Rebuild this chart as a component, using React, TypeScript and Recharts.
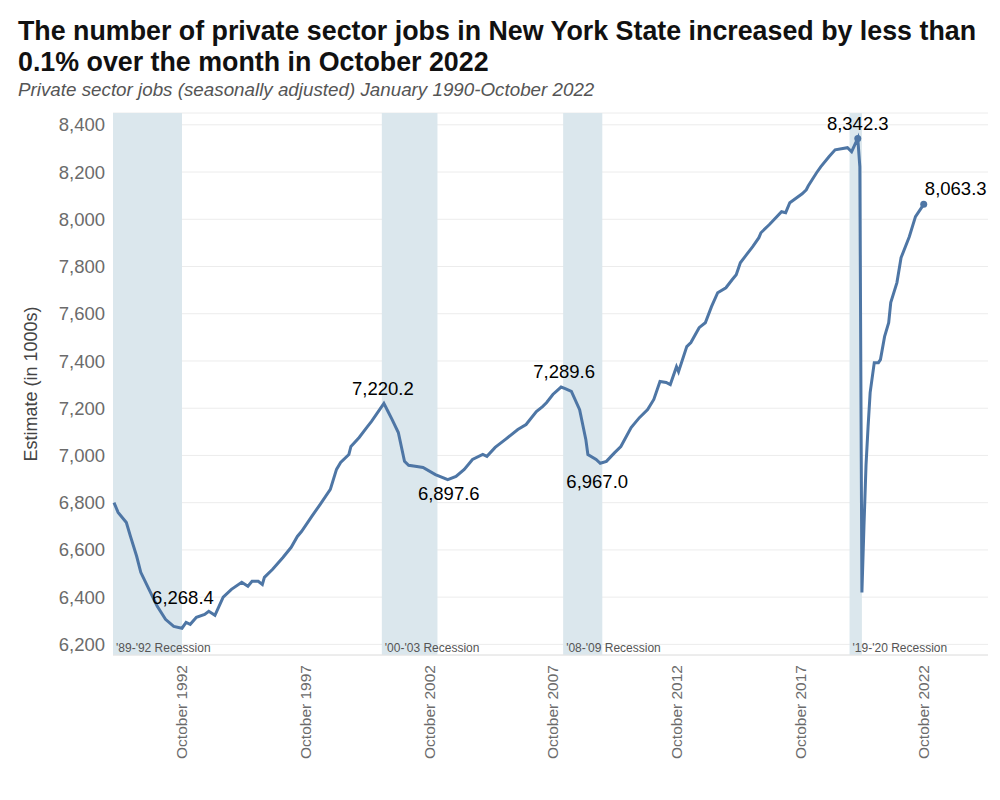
import {
  LineChart,
  Line,
  XAxis,
  YAxis,
  CartesianGrid,
  ReferenceArea,
} from "recharts";

// monthly readings (thousands)
const months = [
  "1990-01", "1990-03", "1990-07", "1990-09", "1990-12", "1991-02", "1991-06", "1991-10",
  "1992-02", "1992-06", "1992-10", "1992-12", "1993-02", "1993-05", "1993-09", "1993-11",
  "1994-02", "1994-06", "1994-10", "1995-03", "1995-06", "1995-08", "1995-11", "1996-01",
  "1996-02", "1996-06", "1996-11", "1997-03", "1997-06", "1997-08", "1998-01", "1998-05",
  "1998-10", "1999-01", "1999-03", "1999-07", "1999-08", "1999-12", "2000-04", "2000-06",
  "2000-09", "2000-12", "2001-02", "2001-04", "2001-07", "2001-10", "2001-12", "2002-04",
  "2002-07", "2003-01", "2003-07", "2003-11", "2004-03", "2004-07", "2004-12", "2005-02",
  "2005-06", "2005-11", "2006-05", "2006-09", "2007-02", "2007-05", "2007-07", "2007-10",
  "2008-02", "2008-04", "2008-07", "2008-11", "2009-02", "2009-03", "2009-07", "2009-09",
  "2009-12", "2010-04", "2010-07", "2010-12", "2011-04", "2011-08", "2011-11", "2012-02",
  "2012-05", "2012-07", "2012-10", "2012-11", "2013-03", "2013-05", "2013-09", "2013-12",
  "2014-03", "2014-06", "2014-10", "2015-01", "2015-03", "2015-05", "2015-08", "2015-11",
  "2016-02", "2016-03", "2016-07", "2017-01", "2017-03", "2017-05", "2017-11", "2018-01",
  "2018-02", "2018-06", "2018-08", "2018-12", "2019-03", "2019-09", "2019-11", "2020-02",
  "2020-03", "2020-04", "2020-05", "2020-06", "2020-07", "2020-08", "2020-10", "2020-12",
  "2021-01", "2021-03", "2021-05", "2021-06", "2021-09", "2021-11", "2022-03", "2022-06",
  "2022-10",
];

const jobs = [
  6800, 6759, 6716, 6657, 6573, 6505, 6433, 6361,
  6306, 6276, 6268.4, 6293, 6285, 6315, 6327, 6340,
  6323, 6400, 6433, 6463, 6446, 6467, 6467, 6454,
  6484, 6518, 6568, 6611, 6657, 6678, 6742, 6792,
  6856, 6941, 6970, 7004, 7038, 7076, 7122, 7144,
  7182, 7220.2, 7186, 7152, 7097, 6975, 6958, 6953,
  6949, 6919, 6897.6, 6911, 6941, 6983, 7004, 6996,
  7034, 7068, 7110, 7131, 7186, 7207, 7224, 7258,
  7289.6, 7283, 7271, 7194, 7068, 7004, 6983, 6967.0,
  6975, 7012, 7038, 7118, 7160, 7194, 7237, 7313,
  7309, 7300, 7376, 7355, 7461, 7478, 7541, 7562,
  7630, 7689, 7710, 7744, 7765, 7816, 7850, 7884,
  7922, 7943, 7977, 8032, 8028, 8070, 8108, 8125,
  8142, 8197, 8222, 8265, 8294, 8303, 8286, 8342.3,
  8222, 6420, 6700, 6960, 7122, 7266, 7393, 7393,
  7406, 7503, 7562, 7647, 7732, 7837, 7926, 8011,
  8063.3,
];

const yTicks = [6200, 6400, 6600, 6800, 7000, 7200, 7400, 7600, 7800, 8000, 8200, 8400];
const xTickMonths = ["1992-10", "1997-10", "2002-10", "2007-10", "2012-10", "2017-10", "2022-10"];
const xTickLabels = ["October 1992", "October 1997", "October 2002", "October 2007", "October 2012", "October 2017", "October 2022"];

const recessionLabels = ["'89-'92 Recession", "'00-'03 Recession", "'08-'09 Recession", "'19-'20 Recession"];
const recessionStart = ["1989-12", "2000-11", "2008-03", "2019-10"];
const recessionEnd = ["1992-10", "2003-02", "2009-10", "2020-04"];

const annotatedMonths = ["1992-10", "2000-12", "2003-07", "2008-02", "2009-09", "2020-02", "2022-10"];

// where each annotation sits relative to its point
const annotationOffset: Record<string, { dx: number; dy: number; dot?: boolean }> = {
  "1992-10": { dx: 1, dy: -31 },
  "2000-12": { dx: -1, dy: -15 },
  "2003-07": { dx: 1, dy: 14 },
  "2008-02": { dx: 3, dy: -16 },
  "2009-09": { dx: -3, dy: 18 },
  "2020-02": { dx: 0, dy: -15, dot: true },
  "2022-10": { dx: 32, dy: -16, dot: true },
};

const X_MIN = 1989.96;
const X_MAX = 2025.35;
const LINE_COLOR = "#4e76a5";
const FONT = "'Liberation Sans', Arial, Helvetica, sans-serif";

const toT = (m: string) => {
  const [y, mo] = m.split("-").map(Number);
  return y + (mo - 1) / 12;
};

const fmt = (v: number) => v.toLocaleString("en-US", { minimumFractionDigits: 1, maximumFractionDigits: 1 });

const data = months.map((m, i) => ({ t: toT(m), month: m, jobs: jobs[i] }));
const xTicks = xTickMonths.map(toT);

function XTick(props: any) {
  const { x, y, payload } = props;
  const idx = xTicks.findIndex((t) => Math.abs(t - payload.value) < 0.001);
  const yy = y + 2;
  return (
    <text
      x={x}
      y={yy}
      dy="0.35em"
      textAnchor="end"
      transform={`rotate(-90, ${x}, ${yy})`}
      fontSize={15.5}
      fill="#6b6b6b"
      fontFamily={FONT}
    >
      {idx >= 0 ? xTickLabels[idx] : ""}
    </text>
  );
}

function AnnotDot(props: any) {
  const { cx, cy, payload } = props;
  const key = `dot-${payload.month}`;
  if (!annotatedMonths.includes(payload.month)) return <g key={key} />;
  const off = annotationOffset[payload.month];
  return (
    <g key={key}>
      {off.dot && <circle cx={cx} cy={cy} r={3.5} fill={LINE_COLOR} />}
      <text
        x={cx + off.dx}
        y={cy + off.dy}
        textAnchor="middle"
        dominantBaseline="central"
        fontSize={18.5}
        fill="#000"
        fontFamily={FONT}
      >
        {fmt(payload.jobs)}
      </text>
    </g>
  );
}

export default function App() {
  return (
    <div style={{ position: "absolute", left: 0, top: 0, width: 1000, height: 800, background: "#fff", fontFamily: FONT }}>
      {/* titre + sous-titre */}
      <div style={{ position: "absolute", left: 18, top: 16, fontSize: 26.8, fontWeight: 700, lineHeight: "31px", color: "#111", whiteSpace: "nowrap" }}>
        The number of private sector jobs in New York State increased by less than
        <br />
        0.1% over the month in October 2022
      </div>
      <div style={{ position: "absolute", left: 18, top: 79, fontSize: 18.8, fontStyle: "italic", color: "#555", whiteSpace: "nowrap" }}>
        Private sector jobs (seasonally adjusted) January 1990-October 2022
      </div>
      <div
        style={{
          position: "absolute", left: 31, top: 384, transform: "translate(-50%, -50%) rotate(-90deg)",
          fontSize: 18, color: "#444", whiteSpace: "nowrap",
        }}
      >
        Estimate (in 1000s)
      </div>

      <LineChart width={1000} height={800} data={data} margin={{ top: 113, right: 12, left: 13, bottom: 35 }}>
        <CartesianGrid vertical={false} stroke="#ececec" />
        {recessionLabels.map((lab, i) => (
          <ReferenceArea
            key={lab}
            x1={Math.max(X_MIN, toT(recessionStart[i]))}
            x2={toT(recessionEnd[i])}
            fill="#dbe7ed"
            fillOpacity={1}
            stroke="none"
            ifOverflow="hidden"
            label={{ value: lab, position: "insideBottomLeft", offset: 3, fontSize: 12, fill: "#555", fontFamily: FONT }}
          />
        ))}
        <XAxis
          type="number"
          dataKey="t"
          domain={[X_MIN, X_MAX]}
          ticks={xTicks}
          tick={<XTick />}
          height={110}
          axisLine={{ stroke: "#e4e4e4" }}
          tickLine={false}
          interval={0}
        />
        <YAxis
          domain={[6155, 8450]}
          ticks={yTicks}
          width={100}
          tickFormatter={(v: number) => v.toLocaleString("en-US")}
          tick={{ fontSize: 18.5, fill: "#6b6b6b", fontFamily: FONT }}
          axisLine={false}
          tickLine={false}
          interval={0}
        />
        <Line
          type="linear"
          dataKey="jobs"
          stroke={LINE_COLOR}
          strokeWidth={3}
          dot={(p: any) => <AnnotDot {...p} />}
          activeDot={false}
          isAnimationActive={false}
        />
      </LineChart>
    </div>
  );
}
